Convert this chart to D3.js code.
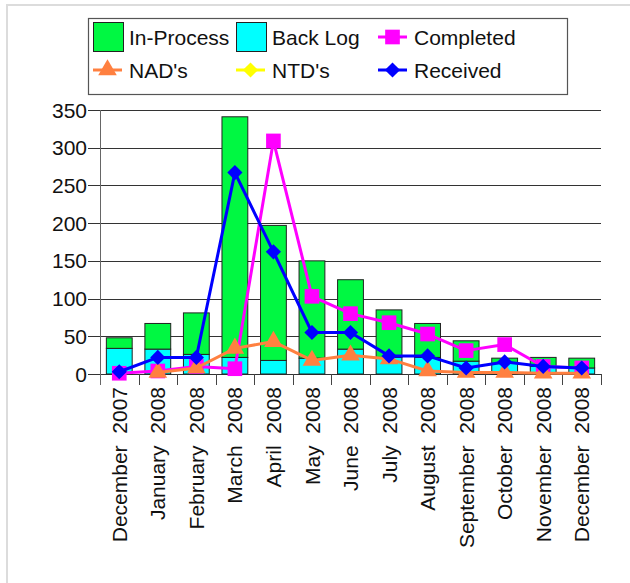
<!DOCTYPE html>
<html>
<head>
<meta charset="utf-8">
<script src="https://cdn.jsdelivr.net/npm/d3@7"></script>
<style>
  body { margin: 0; background: #fff; }
  svg { display: block; font-family: "Liberation Sans", Arial, sans-serif; }
  text { white-space: pre; }
</style>
</head>
<body>
<div id="chart"></div>
<script>
const months = ["December  2007", "January  2008", "February  2008", "March  2008", "April  2008",
    "May  2008", "June  2008", "July  2008", "August  2008", "September  2008",
    "October  2008", "November  2008", "December  2008"];

// stacked bars (Back Log at the bottom, In-Process on top)
const backLog   = [34, 33, 26, 22, 18, 21, 33, 22, 22, 17, 14, 10, 8];
const inProcess = [14, 34, 55, 319, 179, 129, 92, 63, 45, 27, 7, 12, 13];

// line series
const completed = [1, 4, 10, 7, 309, 103, 80, 68, 53, 31, 39, 10, 8];
const nads      = [null, 2, 8, 34, 43, 18, 25, 20, 4, 2, 2, 1, 1];
const ntds      = [null, null, null, null, null, null, null, null, null, null, null, null, null];
const received  = [3, 22, 22, 267, 162, 55, 55, 24, 24, 8, 16, 10, 8];

const yTicks = [0, 50, 100, 150, 200, 250, 300, 350];

const width = 630, height = 583;
const svg = d3.select("#chart").append("svg")
    .attr("width", width)
    .attr("height", height);

// outer frame
svg.append("rect")
    .attr("x", 7).attr("y", 5)
    .attr("width", 700).attr("height", 700)
    .attr("fill", "none")
    .attr("stroke", "#dcdcdc")
    .attr("stroke-width", 2);

const x = d3.scaleBand()
    .domain(months)
    .range([100, 601])
    .paddingInner(0.33)
    .paddingOuter(0.165);
const step = x.step();
const edge = d => x(d) - step * 0.165;     // left edge of a category slot
const cx = d => x(d) + x.bandwidth() / 2;

const y = d3.scaleLinear().domain([0, 350]).range([374, 110]);

// --- grid + y axis ---
const grid = svg.append("g");
grid.selectAll("line.grid").data(yTicks).join("line")
    .attr("class", "grid")
    .attr("x1", 88).attr("x2", 601)
    .attr("y1", d => Math.round(y(d)) + 0.5)
    .attr("y2", d => Math.round(y(d)) + 0.5)
    .attr("stroke", "#333").attr("stroke-width", 1);

grid.selectAll("text").data(yTicks).join("text")
    .attr("x", 87)
    .attr("y", d => y(d))
    .attr("dy", "0.36em")
    .attr("text-anchor", "end")
    .attr("font-size", 21)
    .attr("fill", "#111")
    .text(d => d);

// x category ticks at slot edges
const edges = months.map(edge).concat([x.range()[1]]);
grid.selectAll("line.xtick").data(edges).join("line")
    .attr("class", "xtick")
    .attr("x1", d => Math.round(d) + 0.5).attr("x2", d => Math.round(d) + 0.5)
    .attr("y1", 374).attr("y2", 385)
    .attr("stroke", "#444").attr("stroke-width", 1);

grid.append("line")
    .attr("x1", 100.5).attr("x2", 100.5)
    .attr("y1", y(350)).attr("y2", 385)
    .attr("stroke", "#666").attr("stroke-width", 1);

// --- bars ---
const bars = svg.append("g");
bars.selectAll("rect.back").data(months).join("rect")
    .attr("class", "back")
    .attr("x", d => x(d))
    .attr("width", x.bandwidth())
    .attr("y", (d, i) => y(backLog[i]))
    .attr("height", (d, i) => y(0) - y(backLog[i]))
    .attr("fill", "#00ffff")
    .attr("stroke", "#222").attr("stroke-width", 1);

bars.selectAll("rect.inproc").data(months).join("rect")
    .attr("class", "inproc")
    .attr("x", d => x(d))
    .attr("width", x.bandwidth())
    .attr("y", (d, i) => y(backLog[i] + inProcess[i]))
    .attr("height", (d, i) => y(backLog[i]) - y(backLog[i] + inProcess[i]))
    .attr("fill", "#00f842")
    .attr("stroke", "#222").attr("stroke-width", 1);

// --- line series ---
const symbols = {
    square: d3.symbol().type(d3.symbolSquare).size(215),
    triangle: d3.symbol().type(d3.symbolTriangle).size(150),
    diamond: d3.symbol().type(d3.symbolSquare).size(115)   // drawn rotated 45deg
};
const symTransform = (sym, px, py) =>
    `translate(${px},${py})` + (sym === "diamond" ? " rotate(45)" : "");

const series = [
    { name: "Completed", values: completed, color: "#ff00ff", sym: "square" },
    { name: "NAD's", values: nads, color: "#ff8040", sym: "triangle" },
    { name: "NTD's", values: ntds, color: "#ffff00", sym: "diamond" },
    { name: "Received", values: received, color: "#0000ff", sym: "diamond" }
];

const line = d3.line()
    .defined(d => d.v != null)
    .x(d => cx(d.m))
    .y(d => y(d.v));

series.forEach(s => {
    const pts = months.map((m, i) => ({ m, v: s.values[i] }));
    const g = svg.append("g");
    g.append("path")
        .attr("d", line(pts))
        .attr("fill", "none")
        .attr("stroke", s.color)
        .attr("stroke-width", 3)
        .attr("stroke-linejoin", "round");
    g.selectAll("path.pt").data(pts.filter(p => p.v != null)).join("path")
        .attr("class", "pt")
        .attr("transform", p => symTransform(s.sym, cx(p.m), y(p.v)))
        .attr("d", symbols[s.sym]())
        .attr("fill", s.color);
});

// --- x labels ---
svg.append("g").selectAll("text").data(months).join("text")
    .attr("transform", d => `translate(${cx(d)},387) rotate(-90)`)
    .attr("dy", "0.36em")
    .attr("text-anchor", "end")
    .attr("font-size", 21)
    .attr("fill", "#111")
    .text(d => d);

// --- legend ---
const legend = svg.append("g");
legend.append("rect")
    .attr("x", 88.5).attr("y", 18.5)
    .attr("width", 479).attr("height", 76)
    .attr("fill", "#fff")
    .attr("stroke", "#555").attr("stroke-width", 1.2);

const legendItems = [
    { name: "In-Process", kind: "box", color: "#00f842", col: 0, row: 0 },
    { name: "Back Log", kind: "box", color: "#00ffff", col: 1, row: 0 },
    { name: "Completed", kind: "line", color: "#ff00ff", sym: "square", col: 2, row: 0 },
    { name: "NAD's", kind: "line", color: "#ff8040", sym: "triangle", col: 0, row: 1 },
    { name: "NTD's", kind: "line", color: "#ffff00", sym: "diamond", col: 1, row: 1 },
    { name: "Received", kind: "line", color: "#0000ff", sym: "diamond", col: 2, row: 1 }
];
const colX = [93, 236, 378];
const rowY = [37, 70];

legendItems.forEach(it => {
    const x0 = colX[it.col], yc = rowY[it.row];
    const g = legend.append("g");
    if (it.kind === "box") {
        g.append("rect")
            .attr("x", x0 + 0.5).attr("y", yc - 14.5)
            .attr("width", 30).attr("height", 29)
            .attr("fill", it.color)
            .attr("stroke", "#222").attr("stroke-width", 1);
    } else {
        g.append("line")
            .attr("x1", x0).attr("x2", x0 + 29)
            .attr("y1", yc).attr("y2", yc)
            .attr("stroke", it.color).attr("stroke-width", 3);
        g.append("path")
            .attr("transform", symTransform(it.sym, x0 + 14.5, yc))
            .attr("d", symbols[it.sym]())
            .attr("fill", it.color);
    }
    g.append("text")
        .attr("x", x0 + 36)
        .attr("y", yc)
        .attr("dy", "0.36em")
        .attr("font-size", 21)
        .attr("fill", "#111")
        .text(it.name);
});
</script>
</body>
</html>
